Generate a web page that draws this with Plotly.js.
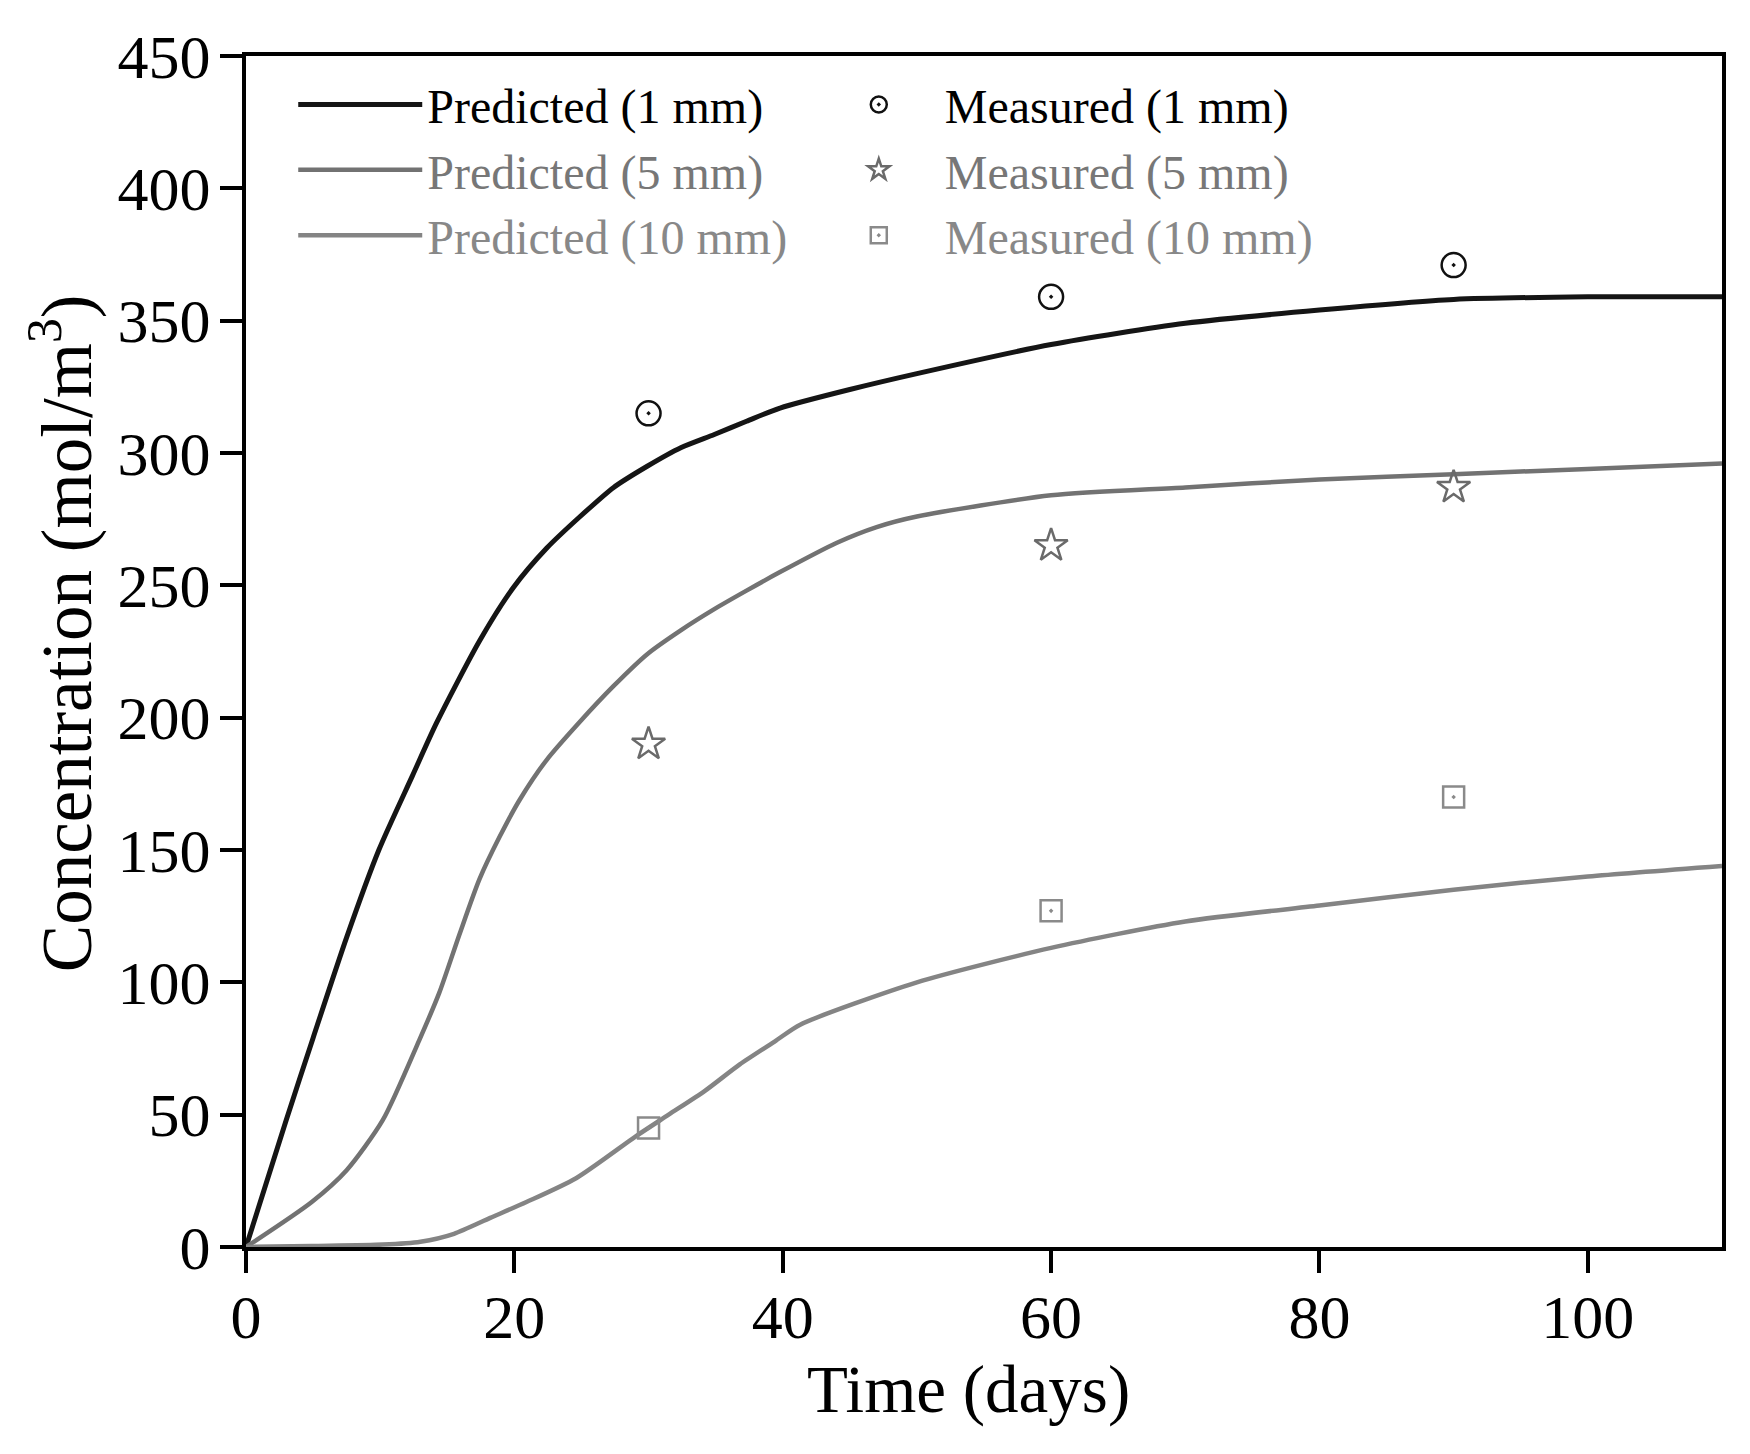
<!DOCTYPE html>
<html>
<head>
<meta charset="utf-8">
<script src="https://cdn.plot.ly/plotly-3.0.1.min.js"></script>
<style>
  html, body { margin: 0; padding: 0; background: #fff; }
  #chart { width: 1750px; height: 1454px; }
</style>
</head>
<body>
<div id="chart"></div>
<script>
// predicted curves
var t1 = [0, 3, 5, 7.5, 9.9, 12.4, 14.2, 17.4, 19.9, 22.4, 24.9, 27.4, 29.9, 32.4, 34.9, 37.3, 39.8, 45, 50, 60, 70, 80, 90, 100, 110];
var c1 = [0, 48, 79, 117, 150, 178, 198, 229, 249, 264, 276, 287, 295, 302, 307, 312, 317, 324, 330, 341, 349, 354, 358, 359, 359];

var t5 = [0, 4.9, 7.5, 10.2, 12.9, 14.4, 15.9, 17.4, 18.9, 20.4, 22.4, 24.8, 27.4, 29.9, 32.4, 34.9, 37.3, 39.8, 44, 47, 50, 60, 70, 80, 90, 100, 110];
var c5 = [0, 17, 29, 48, 78, 96, 118, 139, 155, 169, 184, 198, 212, 224, 233, 241, 248, 255, 266, 272, 276, 284, 287, 290, 292, 294, 296];

var t10 = [0, 4.9, 10.2, 13, 15.5, 18.2, 20.9, 24.6, 29.1, 31.5, 34.2, 36.8, 39.5, 41.3, 50, 60, 70, 80, 90, 100, 110];
var c10 = [0, 0.4, 0.9, 2, 5, 11, 17, 26, 42, 50, 59, 69, 78, 84, 100, 113, 123, 129, 135, 140, 144];

// measured points
var tm = [30, 60, 90];
var m1 = [315, 359, 371];
var m5 = [190, 265, 287];
var m10 = [45, 127, 170];

var xticks = [0, 20, 40, 60, 80, 100];
var yticks = [0, 50, 100, 150, 200, 250, 300, 350, 400, 450];

var serif = '"Liberation Serif", "Times New Roman", serif';

function lineTrace(x, y, name, color, w) {
    return {
        x: x, y: y, mode: 'lines', type: 'scatter', name: name,
        line: {color: color, width: w, shape: 'spline', smoothing: 0.7}, legend: 'legend'
    };
}
function markTrace(x, y, name, color, symbol, size) {
    return {
        x: x, y: y, mode: 'markers', type: 'scatter', name: name,
        marker: {symbol: symbol, size: size, color: color, line: {color: color, width: 2.5}},
        legend: 'legend2'
    };
}

var data = [
    lineTrace(t1, c1, 'Predicted (1 mm)', '#151515', 5),
    lineTrace(t5, c5, '<span style="color:#777777">Predicted (5 mm)</span>', '#727272', 4.5),
    lineTrace(t10, c10, '<span style="color:#888888">Predicted (10 mm)</span>', '#848484', 4.5),
    markTrace(tm, m1, 'Measured (1 mm)', '#111111', 'circle-open-dot', 24),
    markTrace(tm, m5, '<span style="color:#777777">Measured (5 mm)</span>', '#6a6a6a', 'star-open', 25),
    markTrace(tm, m10, '<span style="color:#888888">Measured (10 mm)</span>', '#8a8a8a', 'square-open-dot', 21)
];

var layout = {
    width: 1750, height: 1454,
    margin: {l: 246, r: 28, t: 56, b: 207},
    paper_bgcolor: '#fff', plot_bgcolor: '#fff',
    font: {family: serif, color: '#000'},
    showlegend: true,
    xaxis: {
        range: [0, 110], tickvals: xticks, ticks: 'outside', ticklen: 22, tickwidth: 4,
        tickcolor: '#000', showline: true, linewidth: 4, linecolor: '#000', mirror: true,
        showgrid: false, zeroline: false, tickfont: {size: 62, family: serif},
        ticklabelstandoff: -9
    },
    yaxis: {
        range: [0, 450], tickvals: yticks, ticks: 'outside', ticklen: 22, tickwidth: 4,
        tickcolor: '#000', showline: true, linewidth: 4, linecolor: '#000', mirror: true,
        showgrid: false, zeroline: false, tickfont: {size: 62, family: serif},
        ticklabelstandoff: -3
    },
    legend: {
        x: 0.032, y: 0.991, xanchor: 'left', yanchor: 'top', bgcolor: 'rgba(0,0,0,0)',
        font: {size: 48, family: serif, color: '#000'}, itemwidth: 124, tracegroupgap: 0
    },
    legend2: {
        x: 0.384, y: 0.991, xanchor: 'left', yanchor: 'top', bgcolor: 'rgba(0,0,0,0)',
        font: {size: 48, family: serif, color: '#000'}, itemwidth: 122, tracegroupgap: 0
    },
    annotations: [
        {text: 'Time (days)', xref: 'paper', yref: 'paper', x: 0.4898, y: -0.1195,
         xanchor: 'center', yanchor: 'middle', showarrow: false, font: {size: 67, family: serif}},
        {text: 'Concentration (mol/m<sup>3</sup>)', xref: 'paper', yref: 'paper', x: -0.1246, y: 0.5155,
         xanchor: 'center', yanchor: 'middle', textangle: -90, showarrow: false, font: {size: 71, family: serif}}
    ]
};

Plotly.newPlot('chart', data, layout, {displayModeBar: false, responsive: false});
</script>
</body>
</html>
